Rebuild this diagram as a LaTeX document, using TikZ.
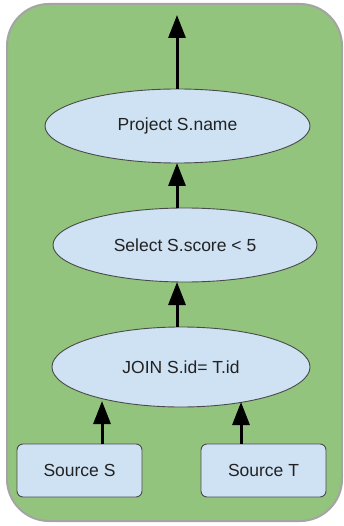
\documentclass[tikz,border=0pt]{standalone}
\usepackage{fontspec}
\setmainfont{Liberation Sans}
\usetikzlibrary{shapes.geometric,arrows.meta}
\definecolor{panelgreen}{HTML}{93C47D}
\definecolor{panelrim}{HTML}{A4A4A4}
\definecolor{opfill}{HTML}{CFE2F3}
\definecolor{opline}{HTML}{4A4A4A}
\definecolor{txt}{HTML}{222222}
\tikzset{
  panel/.style={fill=panelgreen, draw=panelrim, line width=2pt, rounded corners=42pt},
  opnode/.style={ellipse, fill=opfill, draw=opline, line width=0.9pt, inner sep=0pt,
    text=txt, font=\fontsize{17.5}{20}\selectfont},
  srcnode/.style={rectangle, rounded corners=6pt, fill=opfill, draw=opline, line width=0.9pt,
    inner sep=0pt, minimum width=125pt, minimum height=53pt, text=txt,
    font=\fontsize{17.5}{20}\selectfont},
  flow/.style={line width=3pt, -{Triangle[length=23pt,width=17pt]}}
}
\begin{document}
\begin{tikzpicture}[x=1pt, y=-1pt]
  \useasboundingbox (0,0) rectangle (343,526);
  \fill[white] (0,0) rectangle (343,526);
  % green panel
  \draw[panel] (7,4) rectangle (342,521);

  % operator tree
  \node[opnode, minimum width=265pt, minimum height=74pt] (proj) at (177.5,126) {Project S.name};
  \node[opnode, minimum width=264pt, minimum height=74pt] (sel) at (185,245) {Select S.score < 5};
  \node[opnode, minimum width=258pt, minimum height=80pt] (join) at (181,367) {JOIN S.id= T.id};
  \node[srcnode] (srcS) at (79.5,470.5) {Source S};
  \node[srcnode] (srcT) at (263.5,470.5) {Source T};

  % ends of the data-flow arrows
  \coordinate (out) at (177,15);
  \coordinate (projIn) at (177,163);
  \coordinate (selOut) at (177,208);
  \coordinate (selIn) at (177,282);
  \coordinate (joinOut) at (177,327);
  \coordinate (joinInS) at (102,401);
  \coordinate (joinInT) at (241,402);

  \draw[flow] (proj.north -| out) -- (out);
  \draw[flow] (selOut) -- (projIn);
  \draw[flow] (joinOut) -- (selIn);
  \draw[flow] (srcS.north -| joinInS) -- (joinInS);
  \draw[flow] (srcT.north -| joinInT) -- (joinInT);
\end{tikzpicture}
\end{document}
